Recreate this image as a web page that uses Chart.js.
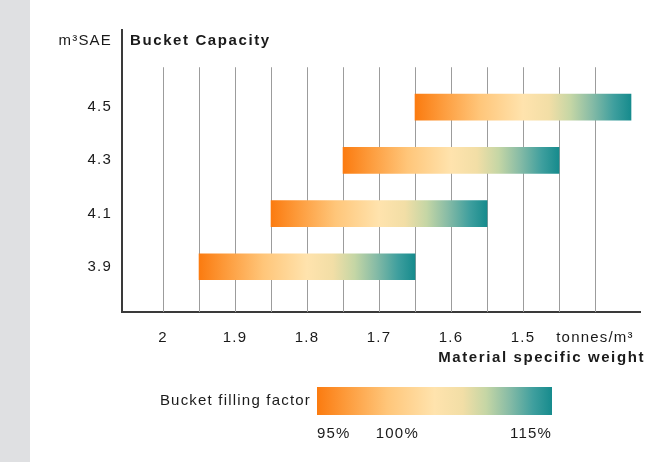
<!DOCTYPE html>
<html>
<head>
<meta charset="utf-8">
<script src="https://cdn.jsdelivr.net/npm/chart.js@4/dist/chart.umd.min.js"></script>
<style>
  html, body { margin: 0; padding: 0; background: #fff; }
  canvas { display: block; }
</style>
</head>
<body>
<canvas id="bucketChart" width="668" height="462"></canvas>
<script>
'use strict';

// bucket capacity (m3 SAE) and the material weight range each bucket covers
var capacities = [4.5, 4.3, 4.1, 3.9];
var weightFrom = [1.65, 1.75, 1.85, 1.95];
var weightTo = [1.35, 1.45, 1.55, 1.65];

// x gridlines and the labels under them
var gridValues = [2, 1.95, 1.9, 1.85, 1.8, 1.75, 1.7, 1.65, 1.6, 1.55, 1.5, 1.45, 1.4];
var xTickLabels = ['2', '', '1.9', '', '1.8', '', '1.7', '', '1.6', '', '1.5', '', 'tonnes/m³'];

// filling factor legend
var fillLabels = ['95%', '100%', '115%'];
var fillValues = [95, 100, 115];

var FONT = '"Liberation Sans", Arial, Helvetica, sans-serif';
var stops = [
  [0, '#fb7b10'], [0.12, '#fd9a3a'], [0.3, '#ffc67a'], [0.5, '#ffe3ad'],
  [0.62, '#f2dea6'], [0.72, '#c5d6a5'], [0.82, '#86bba6'], [0.92, '#3f9f9e'], [1, '#168b8d']
];

function makeGradient(ctx, x0, x1) {
  var g = ctx.createLinearGradient(x0, 0, x1, 0);
  stops.forEach(function (s) { g.addColorStop(s[0], s[1]); });
  return g;
}

function spacedText(ctx, txt, x, y, font, align, spacing) {
  ctx.save();
  ctx.font = font;
  ctx.letterSpacing = spacing || '1.2px';
  ctx.fillStyle = '#1a1a1a';
  ctx.textAlign = align;
  ctx.textBaseline = 'middle';
  ctx.fillText(txt, x, y);
  ctx.restore();
}

var decorPlugin = {
  id: 'decor',
  beforeDraw: function (chart) {
    var ctx = chart.ctx;
    ctx.save();
    ctx.fillStyle = '#dfe0e2';
    ctx.fillRect(0, 0, 30, chart.height);
    ctx.restore();
    ctx.letterSpacing = '1.2px';
  },
  beforeDatasetsDraw: function (chart) {
    var ctx = chart.ctx, x = chart.scales.x, y = chart.scales.y;
    var top = y.getPixelForValue(4.65);
    ctx.save();
    ctx.strokeStyle = '#9c9c9c';
    ctx.lineWidth = 1;
    gridValues.forEach(function (v) {
      var px = Math.round(x.getPixelForValue(v)) + 0.5;
      ctx.beginPath();
      ctx.moveTo(px, top);
      ctx.lineTo(px, chart.chartArea.bottom);
      ctx.stroke();
    });
    ctx.restore();
  },
  afterDraw: function (chart) {
    var ctx = chart.ctx;
    var area = chart.chartArea;
    spacedText(ctx, 'm³SAE', area.left - 10, 41, '15px ' + FONT, 'right');
    spacedText(ctx, 'Bucket Capacity', area.left + 8, 41, 'bold 15px ' + FONT, 'left', '1.6px');
    spacedText(ctx, 'Material specific weight', area.right + 5, 358, 'bold 15px ' + FONT, 'right', '1.6px');

    // filling factor legend
    var lx0 = 317, lx1 = 552, ly = 387, lh = 28;
    ctx.save();
    ctx.fillStyle = makeGradient(ctx, lx0, lx1);
    ctx.fillRect(lx0, ly, lx1 - lx0, lh);
    ctx.restore();
    spacedText(ctx, 'Bucket filling factor', lx0 - 6, ly + lh / 2, '15px ' + FONT, 'right');
    var step = (lx1 - lx0) / (fillValues[fillValues.length - 1] - fillValues[0]);
    fillLabels.forEach(function (lbl, i) {
      var last = i === fillLabels.length - 1;
      var px = lx0 + (fillValues[i] - fillValues[0]) * step;
      spacedText(ctx, lbl, px, ly + lh + 19, '15px ' + FONT, last ? 'right' : 'left');
    });
  }
};

var ctx = document.getElementById('bucketChart').getContext('2d');

new Chart(ctx, {
  type: 'bar',
  data: {
    datasets: [{
      data: capacities.map(function (c, i) {
        return { y: c, x: [weightFrom[i], weightTo[i]] };
      }),
      backgroundColor: function (c) {
        var chart = c.chart;
        if (!chart.chartArea) return '#fdc070';
        var sx = chart.scales.x;
        var x0 = sx.getPixelForValue(weightFrom[c.dataIndex]);
        var x1 = sx.getPixelForValue(weightTo[c.dataIndex]);
        return makeGradient(chart.ctx, x0, x1);
      },
      borderWidth: 0,
      barThickness: 26
    }]
  },
  options: {
    indexAxis: 'y',
    responsive: false,
    devicePixelRatio: 1,
    animation: false,
    layout: { padding: { left: 0, right: 28, top: 30, bottom: 90 } },
    plugins: {
      legend: { display: false },
      tooltip: { enabled: false }
    },
    scales: {
      x: {
        type: 'linear',
        reverse: true,
        min: 1.3375,
        max: 2.057,
        afterBuildTicks: function (scale) {
          scale.ticks = gridValues.map(function (v) { return { value: v }; });
        },
        afterFit: function (scale) { scale.height = 60; },
        ticks: {
          autoSkip: false,
          maxRotation: 0,
          padding: 17,
          color: '#1a1a1a',
          font: { family: FONT, size: 15 },
          callback: function (v) {
            var i = gridValues.indexOf(v);
            return i < 0 ? '' : xTickLabels[i];
          }
        },
        grid: { color: 'rgba(0,0,0,0)', drawTicks: false },
        border: { display: true, color: '#3a3a3a', width: 2 }
      },
      y: {
        type: 'linear',
        offset: false,
        min: 3.73,
        max: 4.79,
        afterBuildTicks: function (scale) {
          scale.ticks = capacities.map(function (v) { return { value: v }; });
        },
        afterFit: function (scale) { scale.width = 122; },
        ticks: {
          padding: 10,
          color: '#1a1a1a',
          font: { family: FONT, size: 15 },
          callback: function (v) { return v.toFixed(1); }
        },
        grid: { color: 'rgba(0,0,0,0)', drawTicks: false },
        border: { display: true, color: '#3a3a3a', width: 2 }
      }
    }
  },
  plugins: [decorPlugin]
});
</script>
</body>
</html>
